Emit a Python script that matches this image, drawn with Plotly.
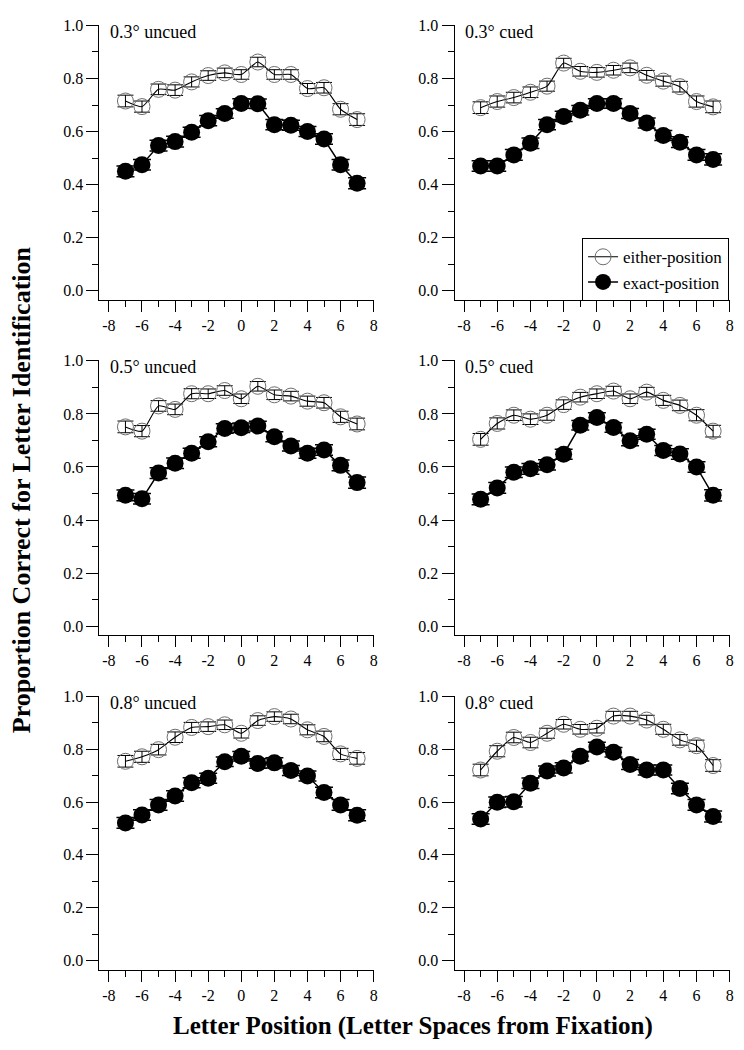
import plotly.graph_objects as go

# ---------------- data ----------------
positions = [-7, -6, -5, -4, -3, -2, -1, 0, 1, 2, 3, 4, 5, 6, 7]
panel_titles = ["0.3° uncued", "0.3° cued", "0.5° uncued", "0.5° cued", "0.8° uncued", "0.8° cued"]

either_03_uncued = [0.715, 0.694, 0.759, 0.756, 0.787, 0.811, 0.821, 0.815, 0.862, 0.815, 0.815, 0.762, 0.765, 0.684, 0.645]
exact_03_uncued = [0.450, 0.475, 0.547, 0.562, 0.597, 0.641, 0.668, 0.706, 0.705, 0.626, 0.624, 0.600, 0.572, 0.475, 0.405]

either_03_cued = [0.690, 0.713, 0.728, 0.748, 0.771, 0.858, 0.827, 0.823, 0.831, 0.840, 0.812, 0.790, 0.769, 0.713, 0.693]
exact_03_cued = [0.470, 0.470, 0.512, 0.556, 0.626, 0.657, 0.680, 0.706, 0.706, 0.668, 0.632, 0.585, 0.560, 0.512, 0.495]

either_05_uncued = [0.751, 0.735, 0.830, 0.817, 0.876, 0.876, 0.888, 0.857, 0.904, 0.872, 0.867, 0.848, 0.842, 0.789, 0.762]
exact_05_uncued = [0.493, 0.480, 0.577, 0.614, 0.652, 0.695, 0.745, 0.748, 0.754, 0.714, 0.679, 0.652, 0.664, 0.606, 0.541]

either_05_cued = [0.704, 0.764, 0.795, 0.780, 0.795, 0.835, 0.863, 0.876, 0.886, 0.857, 0.882, 0.851, 0.832, 0.795, 0.735]
exact_05_cued = [0.478, 0.521, 0.580, 0.593, 0.608, 0.648, 0.757, 0.786, 0.749, 0.699, 0.723, 0.662, 0.649, 0.600, 0.493]

either_08_uncued = [0.754, 0.771, 0.798, 0.845, 0.882, 0.885, 0.892, 0.860, 0.908, 0.923, 0.914, 0.873, 0.848, 0.782, 0.765]
exact_08_uncued = [0.521, 0.551, 0.589, 0.623, 0.673, 0.690, 0.752, 0.773, 0.746, 0.748, 0.719, 0.698, 0.636, 0.589, 0.550]

either_08_cued = [0.721, 0.792, 0.844, 0.825, 0.860, 0.894, 0.875, 0.879, 0.925, 0.925, 0.910, 0.875, 0.835, 0.813, 0.738]
exact_08_cued = [0.536, 0.599, 0.601, 0.671, 0.717, 0.729, 0.773, 0.808, 0.788, 0.742, 0.721, 0.721, 0.651, 0.589, 0.545]

err_either = [0.022, 0.021, 0.020, 0.020, 0.019, 0.018, 0.018, 0.018, 0.018, 0.018, 0.018, 0.019, 0.020, 0.021, 0.022]
err_exact = [0.020, 0.020, 0.020, 0.020, 0.019, 0.019, 0.018, 0.018, 0.018, 0.019, 0.019, 0.019, 0.020, 0.020, 0.021]

either_series = [either_03_uncued, either_03_cued, either_05_uncued, either_05_cued, either_08_uncued, either_08_cued]
exact_series = [exact_03_uncued, exact_03_cued, exact_05_uncued, exact_05_cued, exact_08_uncued, exact_08_cued]

x_tickvals = [-8, -6, -4, -2, 0, 2, 4, 6, 8]
x_ticktext = ["-8", "-6", "-4", "-2", "0", "2", "4", "6", "8"]
x_minorvals = [-7, -5, -3, -1, 1, 3, 5, 7]
y_tickvals = [0.0, 0.2, 0.4, 0.6, 0.8, 1.0]
y_ticktext = ["0.0", "0.2", "0.4", "0.6", "0.8", "1.0"]
y_minorvals = [0.1, 0.3, 0.5, 0.7, 0.9]

# ---------------- layout geometry (page pixels) ----------------
W, H = 744, 1050
col_px = [(100, 376), (457, 734)]
row_px = [(17, 294), (355, 632), (693, 969)]
FONT = "Liberation Serif"


def fx(p):
    return p / W


def fy(p):
    return 1 - p / H


fig = go.Figure()
layout = dict(
    width=W, height=H,
    margin=dict(l=0, r=0, t=0, b=0),
    paper_bgcolor="white", plot_bgcolor="white",
    font=dict(family=FONT, color="black", size=16),
    showlegend=True,
    legend=dict(
        x=fx(733), xanchor="right", y=fy(232), yanchor="top",
        bordercolor="black", borderwidth=1, bgcolor="white",
        font=dict(family=FONT, size=17, color="black"),
        tracegroupgap=0, itemwidth=30,
    ),
    annotations=[],
)

for i in range(6):
    r, c = divmod(i, 2)
    n = "" if i == 0 else str(i + 1)
    xa, ya = "x" + n, "y" + n
    x0, x1 = col_px[c]
    y0, y1 = row_px[r]
    layout["xaxis" + n] = dict(
        domain=[fx(x0), fx(x1)], anchor=ya, range=[-8.57, 8.02],
        showline=True, linecolor="black", linewidth=1,
        ticks="outside", ticklen=11, tickwidth=1, tickcolor="black",
        tickmode="array", tickvals=x_tickvals, ticktext=x_ticktext,
        minor=dict(tickmode="array", tickvals=x_minorvals, ticks="outside", ticklen=6,
                   tickwidth=1, tickcolor="black", showgrid=False),
        showgrid=False, zeroline=False,
        tickfont=dict(family=FONT, size=16, color="black"),
    )
    layout["yaxis" + n] = dict(
        domain=[fy(y1), fy(y0)], anchor=xa, range=[-0.034, 1.002],
        showline=True, linecolor="black", linewidth=1,
        ticks="outside", ticklen=12, tickwidth=1, tickcolor="black",
        tickmode="array", tickvals=y_tickvals, ticktext=y_ticktext,
        minor=dict(tickmode="array", tickvals=y_minorvals, ticks="outside", ticklen=6,
                   tickwidth=1, tickcolor="black", showgrid=False),
        showgrid=False, zeroline=False,
        tickfont=dict(family=FONT, size=16, color="black"),
    )
    layout["annotations"].append(dict(
        text=panel_titles[i], xref=xa + " domain", yref=ya + " domain",
        x=(9 if c == 0 else 8) / (x1 - x0), y=1.0, xanchor="left", yanchor="top",
        yshift=5, showarrow=False, font=dict(family=FONT, size=18, color="black"),
    ))

    fig.add_trace(go.Scatter(
        x=positions, y=either_series[i], xaxis=xa, yaxis=ya,
        mode="lines+markers", name="either-position", showlegend=(i == 1),
        line=dict(color="black", width=1.1, shape="spline", smoothing=0.6),
        marker=dict(symbol="circle-open", size=16, color="#6e6e6e", line=dict(width=1)),
        error_y=dict(type="data", array=err_either, color="black", thickness=1, width=8),
    ))
    fig.add_trace(go.Scatter(
        x=positions, y=exact_series[i], xaxis=xa, yaxis=ya,
        mode="lines+markers", name="exact-position", showlegend=(i == 1),
        line=dict(color="black", width=1.5),
        marker=dict(symbol="circle", size=17, color="black"),
        error_y=dict(type="data", array=err_exact, color="black", thickness=1.5, width=9),
    ))

layout["annotations"].append(dict(
    text="<b>Proportion Correct for Letter Identification</b>", xref="paper", yref="paper",
    x=fx(21), y=fy(485), textangle=-90, showarrow=False,
    xanchor="center", yanchor="middle", font=dict(family=FONT, size=26, color="black"),
))
layout["annotations"].append(dict(
    text="<b>Letter Position (Letter Spaces from Fixation)</b>", xref="paper", yref="paper",
    x=fx(415), y=fy(1026), showarrow=False,
    xanchor="center", yanchor="middle", font=dict(family=FONT, size=25, color="black"),
))

fig.update_layout(**layout)
fig.write_html("out.html", config={"displayModeBar": False},
               post_script="document.body.style.margin='0px';")
